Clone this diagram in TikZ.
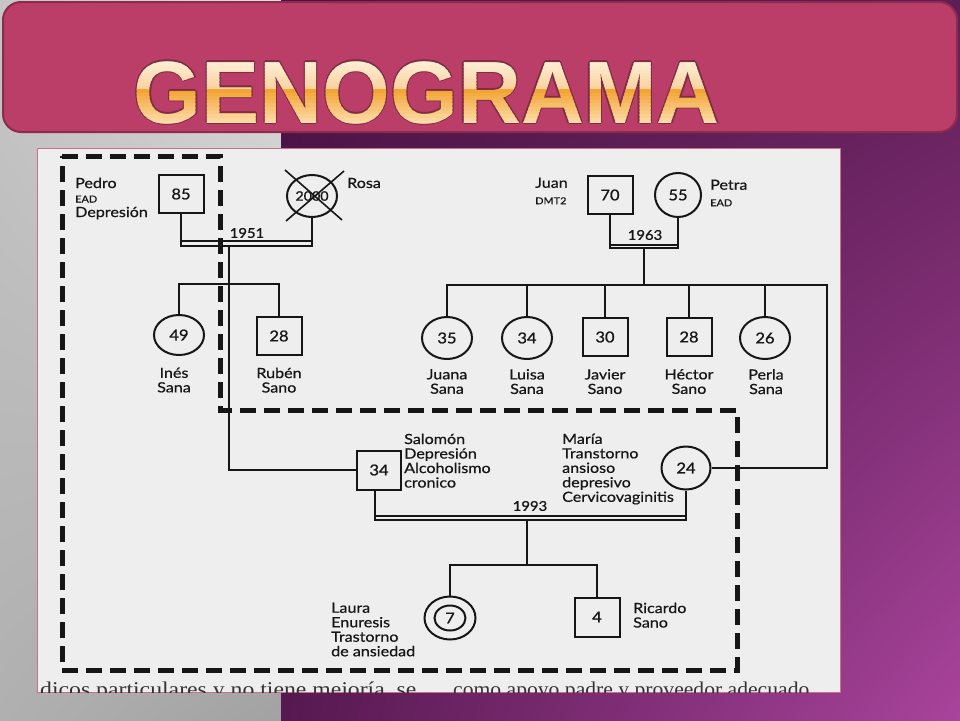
\documentclass[tikz,border=0pt]{standalone}
\usepackage{fontspec}
\usetikzlibrary{shapes.geometric,calc,shadings}
\setmainfont{Liberation Serif}
\newfontfamily\labf[FakeStretch=1.15,FakeBold=0.6]{Lato}
\newfontfamily\numf[FakeStretch=1.1,FakeBold=1]{Lato}
\newfontfamily\titf{Liberation Sans}
\newcommand\mysmallf{\fontsize{9.5}{14.5}\selectfont}
\definecolor{inkc}{HTML}{161616}
\definecolor{paperc}{HTML}{EEEEEE}
\definecolor{paperb}{HTML}{C8708E}
\definecolor{bannerc}{HTML}{BB3E68}
\definecolor{bannerd}{HTML}{8D2B4E}
\definecolor{titout}{HTML}{7E2E42}
\definecolor{titAa}{HTML}{FFF3DE}
\definecolor{titAb}{HTML}{FAD3A2}
\definecolor{titBa}{HTML}{F2A535}
\definecolor{titBb}{HTML}{FDDCAA}
\definecolor{gUL}{HTML}{C6C6C6}
\definecolor{gUR}{HTML}{DEDEDE}
\definecolor{gLL}{HTML}{B0B0B0}
\definecolor{gLR}{HTML}{A2A2A2}
\definecolor{pUL}{HTML}{4B1345}
\definecolor{pUR}{HTML}{5E1E55}
\definecolor{pLL}{HTML}{561850}
\definecolor{pLR}{HTML}{A9449C}
\tikzset{
  ln/.style={draw=inkc, line width=1.8pt},
  sqr/.style={draw=inkc, line width=2pt, rectangle, minimum width=45pt, minimum height=38pt,
    inner sep=0pt, text=inkc, font=\numf\fontsize{15}{15}\selectfont},
  circ/.style={draw=inkc, line width=2pt, ellipse, minimum width=50pt, minimum height=42pt,
    inner sep=0pt, text=inkc, font=\numf\fontsize{15}{15}\selectfont},
  lbl/.style={inner sep=0pt, text=inkc, align=left, anchor=north west,
    font=\labf\fontsize{14}{14.5}\selectfont},
  lblc/.style={lbl, align=center, anchor=north},
  yr/.style={inner sep=0pt, text=inkc, font=\numf\fontsize{13.5}{14}\selectfont},
  dashb/.style={draw=inkc, line width=5pt, dash pattern=on 16pt off 8pt},
  titlef/.style={inner sep=0pt, anchor=base west, font=\titf\bfseries\fontsize{88.5}{90}\selectfont},
  btxt/.style={inner sep=0pt, anchor=base west, text=black!80, font=\fontsize{21}{21}\selectfont}
}
\begin{document}
\begin{tikzpicture}[x=1pt,y=-1pt]
\useasboundingbox (0,0) rectangle (960,720);
% background
\shade[upper left=gUL, upper right=gUR, lower left=gLL, lower right=gLR] (0,0) rectangle (281,720);
\shade[upper left=pUL, upper right=pUR, lower left=pLL, lower right=pLR] (281,0) rectangle (960,720);
% banner
\draw[fill=bannerc, draw=bannerd, line width=2pt, rounded corners=18pt] (3,2) rectangle (957,132);
\coordinate (tpos) at (133.5,123);
\foreach \dx/\dy [count=\k] in {1.3/0,-1.3/0,0/1.3,0/-1.3,0.9/0.9,-0.9/0.9,0.9/-0.9,-0.9/-0.9}{
  \node[titlef, text=titout] (tout\k) at ($(tpos)+(\dx,\dy)$) {\scalebox{0.985}[1]{GENOGRAMA}};
}
\foreach \i in {0,...,9}{
  \pgfmathsetmacro\ya{57+\i*3.25}
  \pgfmathsetmacro\yb{\ya+3.7}
  \pgfmathsetmacro\pp{100-\i*11.1}
  \colorlet{bandc}{titAa!\pp!titAb}
  \begin{scope}
    \clip (0,\ya) rectangle (960,\yb);
    \node[titlef, text=bandc] (tA\i) at (tpos) {\scalebox{0.985}[1]{GENOGRAMA}};
  \end{scope}
}
\foreach \i in {0,...,9}{
  \pgfmathsetmacro\ya{89.5+\i*3.6}
  \pgfmathsetmacro\yb{\ya+4.1}
  \pgfmathsetmacro\pp{100-\i*11.1}
  \colorlet{bandc}{titBa!\pp!titBb}
  \begin{scope}
    \clip (0,\ya) rectangle (960,\yb);
    \node[titlef, text=bandc] (tB\i) at (tpos) {\scalebox{0.985}[1]{GENOGRAMA}};
  \end{scope}
}
% paper
\fill[paperc] (37,148) rectangle (840,692);
\draw[paperb, line width=1pt] (37,148) rectangle (840,692);
% people
\node[sqr] (pedro) at (181,194) {85};
\node[circ, font=\numf\fontsize{13}{13}\selectfont] (rosa) at (312,196) {2000};
\node[sqr] (juan) at (610,195) {70};
\node[circ, minimum width=46pt, minimum height=44pt] (petra) at (678,195) {55};
\node[circ, minimum height=40pt] (ines) at (179,335) {49};
\node[sqr] (ruben) at (279,336) {28};
\node[circ] (juana) at (447,338) {35};
\node[circ] (luisa) at (527,338) {34};
\node[sqr] (javier) at (605,337) {30};
\node[sqr] (hector) at (689,337) {28};
\node[circ] (perla) at (765,338) {26};
\node[sqr, minimum width=44pt, minimum height=39pt] (salomon) at (379,470) {34};
\node[circ, minimum width=49pt, minimum height=43pt] (maria) at (686,468) {24};
\node[circ, minimum width=51pt, minimum height=43pt] (laura) at (450,618) {7};
\draw[inkc, line width=2pt] (laura.center) ellipse [x radius=15.5pt, y radius=12.5pt];
\node[sqr, minimum height=39pt] (ricardo) at (597,617) {4};
% Rosa cross
\draw[ln, line width=1.6pt] ($(rosa.center)+(-27,-26)$) -- ($(rosa.center)+(30,24)$);
\draw[ln, line width=1.6pt] ($(rosa.center)+(32,-25)$) -- ($(rosa.center)+(-26,25)$);
% 1951
\coordinate (b51) at (229,246);
\draw[ln] (pedro.south) |- (b51) -| (rosa.south);
\draw[ln] ($(pedro.south|-b51)+(0,-5)$) -- ($(rosa.south|-b51)+(0,-5)$);
\draw[ln] (b51) |- (salomon.west);
\coordinate (s51) at (229,284);
\draw[ln] (ines.north) |- (s51) -| (ruben.north);
% 1963
\coordinate (b63) at (644,248);
\draw[ln] (juan.south) |- (b63) -| (petra.south);
\draw[ln] ($(juan.south|-b63)+(0,-3)$) -- ($(petra.south|-b63)+(0,-3)$);
\coordinate (s63) at (644,285);
\coordinate (s63r) at (827,285);
\draw[ln] (b63) -- (s63);
\draw[ln] (juana.north) |- (s63r) |- (maria.east);
\foreach \n in {luisa,javier,hector,perla}{
  \draw[ln] (\n.north) -- (\n.north |- s63);
}
% 1993
\coordinate (b93) at (527,520);
\coordinate (sal) at ($(salomon.south)+(-4,0)$);
\draw[ln] (sal) |- (b93) -| (maria.south);
\draw[ln] ($(sal|-b93)+(0,-4)$) -- ($(maria.south|-b93)+(0,-4)$);
\coordinate (s93) at (527,565);
\draw[ln] (b93) -- (s93);
\draw[ln] (laura.north) |- (s93) -| (ricardo.north);
% dashed boundary
\draw[dashb] (62,156) -- (220,156) -- (220,410) -- (737,410) -- (737,670) -- (62,670) -- cycle;
% years
\node[yr] (y51) at (247,233) {1951};
\node[yr] (y63) at (645,235) {1963};
\node[yr] (y93) at (530,506) {1993};
% labels
\node[lbl] (lpedro) at (75,177.5) {Pedro\\{\mysmallf EAD}\\Depresión};
\node[lbl, anchor=west] (lrosa) at (347,183) {Rosa};
\node[lbl] (ljuan) at (535,177.5) {Juan\\[2pt]{\mysmallf DMT2}};
\node[lbl] (lpetra) at (710,179.5) {Petra\\[2pt]{\mysmallf EAD}};
\node[lblc] (lines) at (174,367.5) {Inés\\Sana};
\node[lblc] (lruben) at (279,367.5) {Rubén\\Sano};
\node[lblc] (ljuana) at (447,369) {Juana\\Sana};
\node[lblc] (lluisa) at (527,369) {Luisa\\Sana};
\node[lblc] (ljavier) at (605,369) {Javier\\Sano};
\node[lblc] (lhector) at (689,369) {Héctor\\Sano};
\node[lblc] (lperla) at (766,369) {Perla\\Sana};
\node[lbl] (lsalomon) at (404,433.5) {Salomón\\Depresión\\Alcoholismo\\cronico};
\node[lbl] (lmaria) at (562,433.5) {María\\Transtorno\\ansioso\\depresivo\\Cervicovaginitis};
\node[lbl] (llaura) at (331,602.5) {Laura\\Enuresis\\Trastorno\\de ansiedad};
\node[lbl] (lricardo) at (633,602.5) {Ricardo\\Sano};
% cropped text at the bottom of the scan
\begin{scope}
  \clip (37,148) rectangle (840,692);
  \node[btxt] (bt1) at (40,696) {\scalebox{1.13}[1]{dicos particulares y no tiene mejoría, se}};
  \node[btxt] (bt2) at (453,696) {\scalebox{1.03}[1]{como apoyo padre y proveedor adecuado}};
\end{scope}
\end{tikzpicture}
\end{document}
